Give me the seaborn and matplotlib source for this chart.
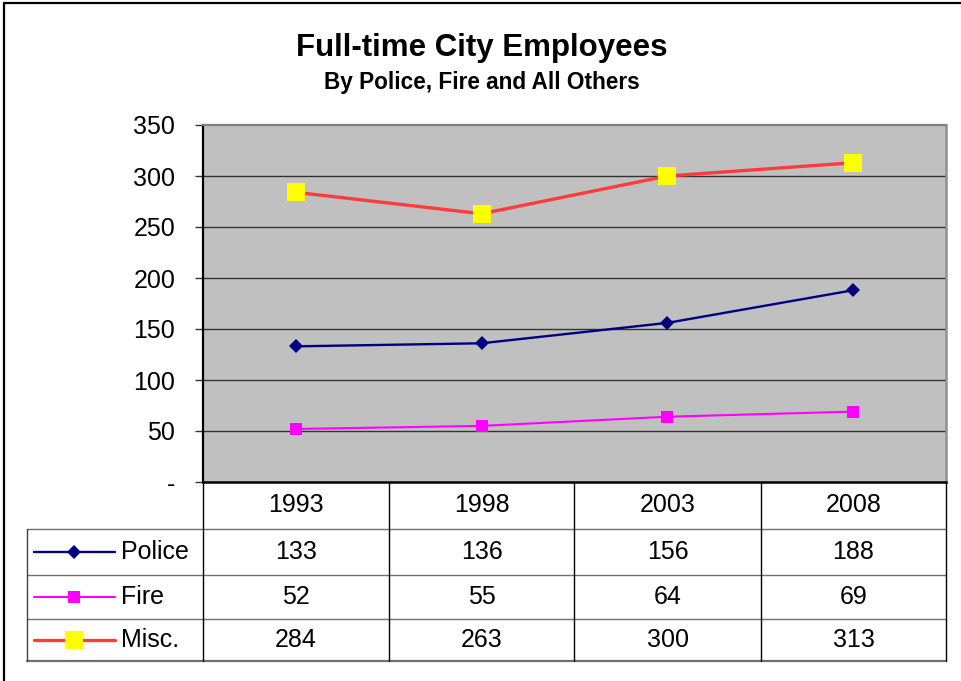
import matplotlib
matplotlib.use("Agg")
import matplotlib.pyplot as plt
from matplotlib.lines import Line2D
from matplotlib.patches import Rectangle
import seaborn as sns
import pandas as pd

years = ["1993", "1998", "2003", "2008"]
police = [133, 136, 156, 188]
fire = [52, 55, 64, 69]
misc = [284, 263, 300, 313]
series_names = ["Police", "Fire", "Misc."]
y_ticks = [0, 50, 100, 150, 200, 250, 300, 350]
y_tick_labels = ["-", "50", "100", "150", "200", "250", "300", "350"]
title = "Full-time City Employees"
subtitle = "By Police, Fire and All Others"

sns.set_style("white")
plt.rcParams["font.family"] = ["Liberation Sans", "DejaVu Sans"]
plt.rcParams["text.color"] = "black"
plt.rcParams["ytick.labelcolor"] = "black"

W, H = 961, 681
fig = plt.figure(figsize=(W / 100, H / 100), dpi=100)


def fx(x):
    return x / W


def fy(y):
    return 1 - y / H


# outer frame
fig.patches.append(Rectangle((fx(4), fy(690)), fx(970) - fx(4), fy(3) - fy(690),
                             transform=fig.transFigure, fill=False,
                             edgecolor="black", linewidth=1.6))

L, R, T, B = 203, 946, 125, 482
ax = fig.add_axes([fx(L), fy(B), fx(R) - fx(L), fy(T) - fy(B)])
ax.set_facecolor("#C0C0C0")

styles = {
    "Police": dict(color="#000080", marker="D", markersize=7, linewidth=1.7,
                   mfc="#000080", mec="#000080"),
    "Fire": dict(color="#FF00FF", marker="s", markersize=8.3, linewidth=1.5,
                 mfc="#FF00FF", mec="#FF00FF"),
    "Misc.": dict(color="#FF3B3B", marker="s", markersize=13.3, linewidth=2.4,
                  mfc="#FFFF00", mec="#FFFF00"),
}

values = {"Police": police, "Fire": fire, "Misc.": misc}
pos = list(range(len(years)))
for name in series_names:
    df = pd.DataFrame({"x": pos, "y": values[name]})
    st = styles[name]
    sns.lineplot(data=df, x="x", y="y", ax=ax, color=st["color"],
                 marker=st["marker"], markersize=st["markersize"],
                 linewidth=st["linewidth"], markerfacecolor=st["mfc"],
                 markeredgecolor=st["mec"], markeredgewidth=0, zorder=3)

ax.set_xlim(-0.5, len(years) - 0.5)
ax.set_ylim(0, 350)
ax.set_yticks(y_ticks)
ax.set_yticklabels(y_tick_labels, fontsize=18, color="black")
ax.set_xticks([])
ax.set_xlabel("")
ax.set_ylabel("")
for yv in y_ticks[1:-1]:
    ax.axhline(yv, color="#333333", linewidth=1.0, zorder=1)
ax.tick_params(axis="y", direction="out", length=6, width=1, color="#333333",
               pad=14, left=True)
ax.spines["left"].set_color("black")
ax.spines["left"].set_linewidth(1.6)
ax.spines["bottom"].set_color("black")
ax.spines["bottom"].set_linewidth(1.8)
ax.spines["top"].set_color("#808080")
ax.spines["top"].set_linewidth(1.6)
ax.spines["right"].set_color("#909090")
ax.spines["right"].set_linewidth(1.8)
for s in ax.spines.values():
    s.set_visible(True)

# titles
fig.text(fx(482), fy(48), title, ha="center", va="center", fontsize=22.5,
         fontweight="bold", color="black")
fig.text(fx(482), fy(82), subtitle, ha="center", va="center", fontsize=16.3,
         fontweight="bold", color="black")

# data table
col_edges = [203, 389, 574, 761, 946]
row_edges = [482, 529, 575, 619, 661]
TL = 27


def hline(y, x0, x1, color, lw):
    fig.add_artist(Line2D([fx(x0), fx(x1)], [fy(y), fy(y)], color=color,
                          linewidth=lw, transform=fig.transFigure))


def vline(x, y0, y1, color, lw):
    fig.add_artist(Line2D([fx(x), fx(x)], [fy(y0), fy(y1)], color=color,
                          linewidth=lw, transform=fig.transFigure))


for y in row_edges[1:-1]:
    hline(y, TL, 946, "#707070", 1.0)
hline(row_edges[-1], TL, 946, "#707070", 1.6)
for x in col_edges[:-1]:
    vline(x, 482, row_edges[-1], "black", 1.0)
vline(946, 482, row_edges[-1], "black", 1.0)
vline(TL, row_edges[1], row_edges[-1], "#404040", 1.0)

for j, yr in enumerate(years):
    cx = (col_edges[j] + col_edges[j + 1]) / 2
    fig.text(fx(cx), fy((row_edges[0] + row_edges[1]) / 2), yr, ha="center",
             va="center", fontsize=18)
    for i, name in enumerate(series_names):
        cy = (row_edges[i + 1] + row_edges[i + 2]) / 2
        fig.text(fx(cx), fy(cy), str(values[name][j]), ha="center",
                 va="center", fontsize=18)

for i, name in enumerate(series_names):
    cy = (row_edges[i + 1] + row_edges[i + 2]) / 2
    st = styles[name]
    fig.add_artist(Line2D([fx(34), fx(115)], [fy(cy), fy(cy)], color=st["color"],
                          linewidth=st["linewidth"], transform=fig.transFigure))
    fig.add_artist(Line2D([fx(74)], [fy(cy)], marker=st["marker"],
                          markersize=st["markersize"], mfc=st["mfc"],
                          mec=st["mec"], mew=0, linestyle="none",
                          transform=fig.transFigure))
    fig.text(fx(121), fy(cy), name, ha="left", va="center", fontsize=18)

fig.savefig("out.png", dpi=100)
